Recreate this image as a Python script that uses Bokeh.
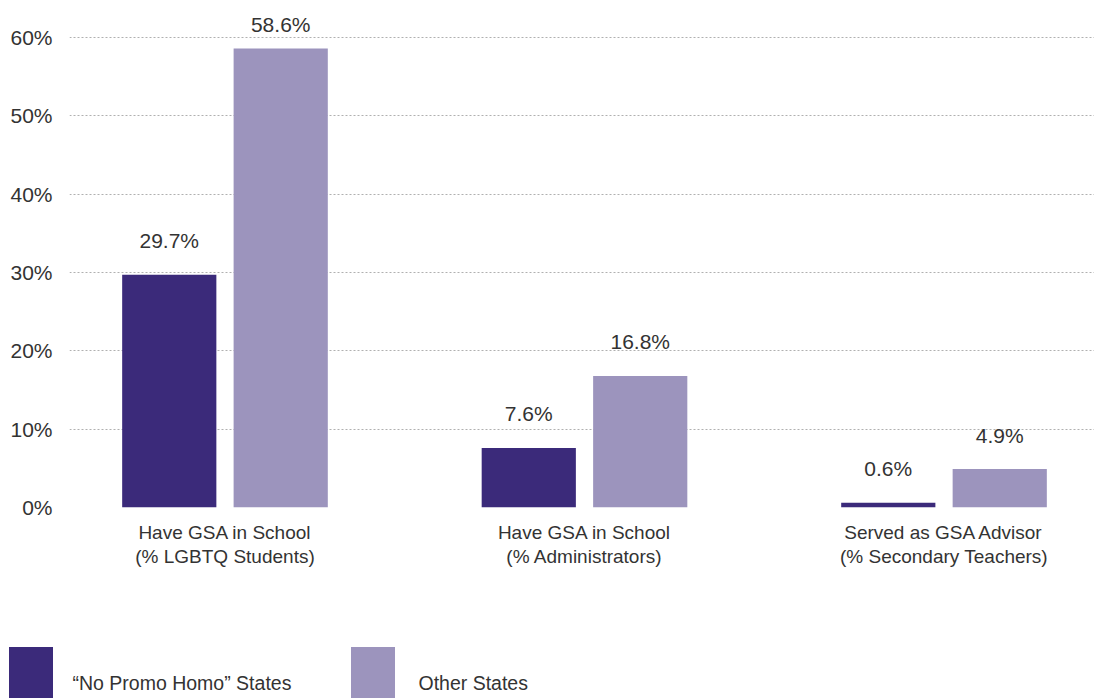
from bokeh.plotting import figure
from bokeh.models import (ColumnDataSource, FixedTicker, PrintfTickFormatter,
                          Legend, LegendItem, Range1d)
from bokeh.transform import dodge
from bokeh.embed import file_html
from bokeh.resources import INLINE
from bokeh.core.properties import value

# ---- data ----
categories = [
    "Have GSA in School\n(% LGBTQ Students)",
    "Have GSA in School\n(% Administrators)",
    "Served as GSA Advisor\n(% Secondary Teachers)",
]
no_promo_homo = [29.7, 7.6, 0.6]
other_states = [58.6, 16.8, 4.9]
y_ticks = [0, 10, 20, 30, 40, 50, 60]
series_names = ["\u201cNo Promo Homo\u201d States", "Other States"]

# ---- style ----
colors = ["#3B2A7A", "#9C94BD"]
text_color = "#333333"
font = "Liberation Sans"
bar_width = 0.262
shift = 0.155

def lab_offset(v):
    return -24 if v > 55 else -34

x = list(range(len(categories)))
src = ColumnDataSource(dict(
    x=x,
    a=no_promo_homo,
    b=other_states,
    a_lab=[f"{v:.1f}%" for v in no_promo_homo],
    b_lab=[f"{v:.1f}%" for v in other_states],
    a_off=[lab_offset(v) for v in no_promo_homo],
    b_off=[lab_offset(v) for v in other_states],
))

p = figure(width=1094, height=646,
           x_range=Range1d(-0.4325, 2.4186), y_range=Range1d(0, 64.72),
           output_backend="svg", toolbar_location=None,
           min_border_left=69, min_border_right=0,
           min_border_top=0, min_border_bottom=139)
p.outline_line_color = None
p.background_fill_color = "white"
p.border_fill_color = "white"

r1 = p.vbar(x=dodge("x", -shift, range=p.x_range), top="a", width=bar_width,
            source=src, fill_color=colors[0], line_color=None)
r2 = p.vbar(x=dodge("x", shift, range=p.x_range), top="b", width=bar_width,
            source=src, fill_color=colors[1], line_color=None)

for col, lab, off, sgn in (("a", "a_lab", "a_off", -1), ("b", "b_lab", "b_off", 1)):
    p.text(x=dodge("x", sgn * shift, range=p.x_range), y=col, text=lab,
           y_offset=off, source=src, text_align="center", text_baseline="middle",
           text_font=value(font), text_font_size="21px", text_color=text_color)

# grid
p.xgrid.visible = False
p.ygrid.ticker = FixedTicker(ticks=y_ticks)
p.ygrid.grid_line_color = "#b0b0b0"
p.ygrid.grid_line_dash = "2 2"
p.ygrid.grid_line_width = 1

# y axis
p.yaxis.ticker = FixedTicker(ticks=y_ticks)
p.yaxis.formatter = PrintfTickFormatter(format="%d%%")
p.yaxis.axis_line_color = None
p.yaxis.major_tick_line_color = None
p.yaxis.minor_tick_line_color = None
p.yaxis.major_tick_out = 0
p.yaxis.minor_tick_out = 0
p.yaxis.major_label_standoff = 17
p.yaxis.major_label_text_font = font
p.yaxis.major_label_text_font_size = "21px"
p.yaxis.major_label_text_color = text_color

# x axis
p.xaxis.ticker = FixedTicker(ticks=x)
p.xaxis.major_label_overrides = {i: c for i, c in zip(x, categories)}
p.xaxis.axis_line_color = None
p.xaxis.major_tick_line_color = None
p.xaxis.minor_tick_line_color = None
p.xaxis.major_tick_out = 0
p.xaxis.minor_tick_out = 0
p.xaxis.major_label_standoff = 14
p.xaxis.major_label_text_font = font
p.xaxis.major_label_text_font_size = "19px"
p.xaxis.major_label_text_color = text_color
p.xaxis.major_label_text_line_height = 1.15

# ---- legend strip, a separate root (its bars lie outside its visible range) ----
lg = figure(width=1094, height=52, x_range=Range1d(-100, -99), y_range=Range1d(0, 1),
            output_backend="svg", toolbar_location=None,
            x_axis_location=None, y_axis_location=None,
            min_border_left=0, min_border_right=0, min_border_top=0, min_border_bottom=0)
lg.grid.visible = False
lg.outline_line_color = None
lg.background_fill_color = "white"
lg.border_fill_color = "white"

lr1 = lg.vbar(x="x", top="a", width=bar_width, source=src,
              fill_color=colors[0], line_color=None)
lr2 = lg.vbar(x="x", top="b", width=bar_width, source=src,
              fill_color=colors[1], line_color=None)

for rr, name, loc, standoff in ((lr1, series_names[0], (2.5, -6.5), 15),
                                (lr2, series_names[1], (344.5, -6.5), 19)):
    leg = Legend(items=[LegendItem(label="\n" + name, renderers=[rr])],
                 location=loc, orientation="horizontal",
                 glyph_width=55, glyph_height=65, label_standoff=standoff,
                 padding=0, margin=0, spacing=0,
                 border_line_color=None, background_fill_alpha=0,
                 label_text_font=font, label_text_font_size="19.5px",
                 label_text_line_height=1.35,
                 label_text_color=text_color)
    lg.add_layout(leg)

open("out.html", "w").write(file_html([p, lg], INLINE))
